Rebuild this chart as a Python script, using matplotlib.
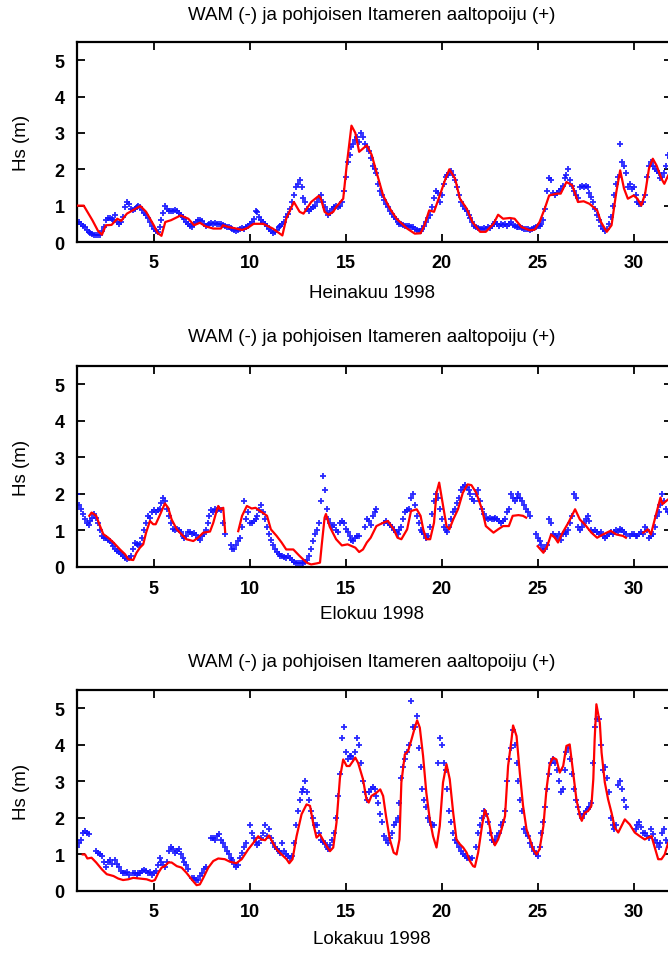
import numpy as np
import matplotlib
matplotlib.use("Agg")
import matplotlib.pyplot as plt

nan = np.nan

# ---------------- data ----------------
title_text = "WAM (-) ja pohjoisen Itameren aaltopoiju (+)"
month_labels = ["Heinakuu 1998", "Elokuu 1998", "Lokakuu 1998"]
ylabel_text = "Hs (m)"
x_ticks = [5, 10, 15, 20, 25, 30]
y_ticks = [0, 1, 2, 3, 4, 5]

# WAM model (red line), (day, Hs)
jul_wam = [(1.0, 1.0), (1.35, 1.0), (1.8, 0.6), (2.1, 0.3), (2.3, 0.2), (2.5, 0.46), (2.8, 0.47),
           (3.1, 0.64), (3.3, 0.58), (3.6, 0.78), (4.3, 0.99), (4.6, 0.83), (5.0, 0.46), (5.2, 0.25),
           (5.4, 0.17), (5.6, 0.55), (5.9, 0.6), (6.4, 0.73), (6.8, 0.64), (7.1, 0.46), (7.4, 0.53),
           (7.7, 0.43), (8.1, 0.37), (8.5, 0.37), (8.6, 0.46), (8.9, 0.41), (9.3, 0.37), (9.6, 0.33),
           (9.9, 0.39), (10.2, 0.5), (10.7, 0.5), (11.2, 0.37), (11.7, 0.18), (11.9, 0.64), (12.3, 1.1),
           (12.6, 0.83), (12.8, 0.78), (13.2, 1.1), (13.6, 1.27), (13.7, 1.2), (13.9, 0.83), (14.1, 0.75),
           (14.35, 0.83), (14.5, 0.96), (14.87, 1.19), (15.05, 2.1), (15.3, 3.2), (15.5, 3.0), (15.7, 2.48),
           (15.9, 2.57), (16.1, 2.66), (16.35, 2.4), (16.6, 1.93), (16.95, 1.28), (17.3, 0.92), (17.65, 0.64),
           (18.2, 0.37), (18.6, 0.23), (18.9, 0.24), (19.1, 0.46), (19.35, 0.87), (19.6, 0.83), (19.9, 1.28),
           (20.2, 1.74), (20.4, 2.0), (20.7, 1.74), (20.95, 1.19), (21.3, 0.92), (21.6, 0.55), (22.0, 0.28),
           (22.3, 0.28), (22.7, 0.5), (22.94, 0.75), (23.2, 0.64), (23.55, 0.66), (23.8, 0.64), (24.16, 0.41),
           (24.6, 0.32), (24.85, 0.34), (25.1, 0.55), (25.37, 0.92), (25.6, 1.28), (26.0, 1.33), (26.2, 1.33),
           (26.5, 1.65), (26.8, 1.56), (27.1, 1.1), (27.4, 1.12), (27.7, 1.05), (28.1, 0.87), (28.3, 0.55),
           (28.6, 0.28), (28.85, 0.46), (29.1, 1.38), (29.3, 1.97), (29.5, 1.47), (29.7, 1.19), (30.0, 1.28),
           (30.2, 1.19), (30.4, 1.0), (30.6, 1.33), (30.8, 2.02), (31.0, 2.29), (31.2, 2.1), (31.45, 1.74),
           (31.6, 1.6), (31.8, 1.83), (32.0, 2.0)]

aug_wam = [(1.64, 1.4), (1.76, 1.49), (2.0, 1.4), (2.2, 1.12), (2.37, 0.9), (2.63, 0.8), (2.9, 0.67),
           (3.24, 0.48), (3.5, 0.35), (3.67, 0.21), (3.93, 0.19), (4.1, 0.39), (4.28, 0.53), (4.45, 0.62),
           (4.6, 0.94), (4.8, 1.26), (4.97, 1.17), (5.1, 1.17), (5.3, 1.4), (5.58, 1.74), (5.75, 1.62),
           (5.93, 1.3), (6.2, 1.03), (6.45, 0.89), (6.7, 0.76), (7.06, 0.71), (7.3, 0.8), (7.58, 0.94),
           (7.93, 0.97), (8.1, 1.21), (8.27, 1.53), (8.36, 1.67), (8.45, 1.58), (8.62, 1.62), (8.72, 0.96),
           (9.0, nan),
           (9.4, 0.98), (9.6, 1.4), (9.85, 1.67), (10.1, 1.6), (10.3, 1.62), (10.5, 1.55), (10.9, 1.4),
           (11.1, 1.03), (11.4, 0.85), (11.66, 0.67), (11.9, 0.48), (12.27, 0.48), (12.6, 0.3), (12.96, 0.12),
           (13.2, 0.07), (13.5, 0.1), (13.66, 0.12), (13.75, 0.6), (13.9, 1.35), (13.97, 1.45), (14.17, 1.1),
           (14.5, 0.76), (14.8, 0.59), (15.1, 0.62), (15.5, 0.53), (15.7, 0.41), (15.9, 0.48), (16.1, 0.67),
           (16.3, 0.8), (16.6, 1.12), (16.95, 1.21), (17.2, 1.26), (17.5, 1.03), (17.7, 0.8), (17.9, 0.76),
           (18.2, 1.03), (18.4, 1.53), (18.7, 1.58), (18.9, 1.4), (19.04, 1.03), (19.2, 0.76), (19.4, 0.76),
           (19.6, 1.21), (19.73, 2.03), (19.87, 2.31), (20.1, 1.58), (20.25, 1.12), (20.4, 1.03), (20.6, 1.3),
           (20.85, 1.58), (21.1, 2.03), (21.35, 2.26), (21.55, 2.24), (21.8, 2.03), (22.1, 1.58), (22.3, 1.12),
           (22.7, 0.94), (22.94, 1.03), (23.2, 1.12), (23.5, 1.12), (23.7, 1.4), (24.0, 1.42), (24.24, 1.4),
           (24.4, 1.35), (24.7, nan),
           (25.0, 0.57), (25.3, 0.39), (25.5, 0.57), (25.7, 0.89), (25.9, 0.8), (26.06, 0.67), (26.3, 0.94),
           (26.6, 1.21), (26.95, 1.58), (27.2, 1.3), (27.45, 1.17), (27.8, 0.94), (28.1, 0.8), (28.4, 0.89),
           (28.8, 0.99), (29.1, 0.89), (29.45, 0.85), (29.6, 0.8), (30.0, nan),
           (30.5, 0.94), (30.75, 1.03), (30.9, 0.89), (31.1, 1.3), (31.4, 1.9), (31.5, 1.72), (31.8, 1.85),
           (32.0, 1.9)]

oct_wam = [(1.3, 1.0), (1.42, 1.0), (1.54, 0.89), (1.76, 0.91), (2.0, 0.78), (2.3, 0.59), (2.55, 0.46),
           (2.9, 0.41), (3.15, 0.34), (3.4, 0.3), (3.67, 0.32), (3.93, 0.36), (4.28, 0.34), (4.63, 0.32),
           (4.9, 0.27), (5.06, 0.3), (5.24, 0.5), (5.41, 0.64), (5.58, 0.68), (5.76, 0.78), (5.93, 0.78),
           (6.2, 0.68), (6.45, 0.64), (6.7, 0.5), (6.97, 0.32), (7.23, 0.16), (7.4, 0.18), (7.58, 0.36),
           (7.84, 0.64), (8.1, 0.82), (8.36, 0.89), (8.7, 0.87), (8.97, 0.8), (9.3, 0.76), (9.58, 0.87),
           (9.92, 1.14), (10.27, 1.37), (10.44, 1.5), (10.6, 1.41), (10.8, 1.39), (11.0, 1.52), (11.2, 1.32),
           (11.4, 1.14), (11.66, 1.0), (11.92, 0.87), (12.06, 0.76), (12.23, 0.87), (12.44, 1.5), (12.7, 2.1),
           (12.96, 2.37), (13.14, 2.33), (13.3, 1.87), (13.48, 1.46), (13.66, 1.55), (13.9, 1.32), (14.18, 1.09),
           (14.35, 1.19), (14.52, 1.87), (14.7, 3.1), (14.87, 3.6), (15.05, 3.42), (15.2, 3.42), (15.5, 3.65),
           (15.65, 3.5), (15.9, 3.06), (16.08, 2.51), (16.2, 2.42), (16.34, 2.6), (16.6, 2.69), (16.8, 2.78),
           (16.95, 2.6), (17.1, 2.05), (17.3, 1.41), (17.5, 1.05), (17.65, 1.0), (17.8, 1.41), (17.9, 2.97),
           (18.08, 3.74), (18.25, 3.83), (18.43, 4.15), (18.6, 4.47), (18.72, 4.67), (18.86, 4.47), (19.03, 3.7),
           (19.2, 2.69), (19.38, 1.96), (19.55, 1.5), (19.73, 1.19), (19.9, 1.78), (20.07, 2.97), (20.25, 3.47),
           (20.42, 3.06), (20.6, 2.14), (20.77, 1.41), (20.95, 1.28), (21.12, 1.19), (21.3, 1.05), (21.47, 0.82),
           (21.64, 0.68), (21.73, 0.66), (21.9, 1.05), (22.1, 1.78), (22.25, 2.22), (22.43, 1.96), (22.6, 1.5),
           (22.77, 1.25), (22.94, 1.41), (23.12, 1.69), (23.3, 2.05), (23.46, 3.42), (23.64, 4.15), (23.72, 4.53),
           (23.9, 4.24), (24.07, 3.24), (24.24, 2.33), (24.42, 1.69), (24.6, 1.41), (24.76, 1.14), (24.94, 1.0),
           (25.1, 1.14), (25.3, 1.78), (25.46, 2.78), (25.63, 3.47), (25.8, 3.65), (25.98, 3.6), (26.15, 3.24),
           (26.33, 3.42), (26.5, 3.97), (26.67, 4.01), (26.85, 3.24), (27.02, 2.51), (27.2, 2.05), (27.3, 1.92),
           (27.45, 2.14), (27.63, 2.19), (27.8, 2.33), (27.9, 3.06), (27.97, 4.15), (28.06, 5.11), (28.24, 4.6),
           (28.33, 3.79), (28.5, 2.97), (28.67, 2.51), (28.85, 2.14), (29.02, 1.73), (29.2, 1.6), (29.37, 1.78),
           (29.54, 1.96), (29.8, 1.82), (30.06, 1.6), (30.32, 1.5), (30.58, 1.41), (30.75, 1.46), (30.93, 1.5),
           (31.1, 1.19), (31.28, 0.87), (31.45, 0.87), (31.62, 1.0), (31.8, 1.32), (32.0, 1.4)]

# Buoy observations (blue +), sampled every 0.1 day starting at day 1.0; one row per day
buoy_start = 1.0
buoy_step = 0.1
jul_buoy = [
    0.55, 0.55, 0.5, 0.45, 0.4, 0.33, 0.28, 0.25, 0.22, 0.2,
    0.18, 0.18, 0.2, 0.3, 0.4, 0.6, 0.65, 0.65, 0.62, 0.6,
    0.75, 0.55, 0.5, 0.55, 0.7, 0.95, 1.1, 1.05, 0.9, 0.88,
    0.9, 0.95, 1.0, 0.95, 0.88, 0.8, 0.75, 0.65, 0.55, 0.45,
    0.35, 0.3, 0.28, 0.4, 0.6, 0.8, 0.98, 0.9, 0.85, 0.85,
    0.85, 0.88, 0.85, 0.8, 0.75, 0.68, 0.62, 0.55, 0.5, 0.45,
    0.42, 0.5, 0.55, 0.6, 0.6, 0.58, 0.5, 0.45, 0.48, 0.5,
    0.52, 0.5, 0.52, 0.5, 0.5, 0.5, 0.48, 0.45, 0.42, 0.4,
    0.38, 0.35, 0.32, 0.3, 0.32, 0.35, 0.38, 0.35, 0.4, 0.45,
    0.5, 0.55, 0.62, 0.85, 0.82, 0.7, 0.6, 0.55, 0.5, 0.45,
    0.35, 0.3, 0.25, 0.28, 0.32, 0.4, 0.45, 0.5, 0.55, 0.7,
    0.78, 0.9, 1.1, 1.3, 1.5, 1.6, 1.7, 1.5, 1.2, 1.1,
    0.9, 0.85, 0.9, 0.95, 1.0, 1.1, 1.2, 1.3, 1.1, 0.95,
    0.85, 0.75, 0.8, 0.9, 0.95, 1.0, 0.95, 1.0, 1.1, 1.4,
    1.8, 2.2, 2.4, 2.6, 2.7, 2.8, 2.9, 2.75, 3.0, 2.9,
    2.7, 2.6, 2.5, 2.3, 2.1, 2.0, 1.9, 1.6, 1.4, 1.3,
    1.15, 1.05, 0.95, 0.85, 0.78, 0.7, 0.62, 0.55, 0.5, 0.5,
    0.48, 0.45, 0.45, 0.43, 0.42, 0.4, 0.35, 0.32, 0.3, 0.3,
    0.35, 0.45, 0.55, 0.65, 0.75, 0.95, 1.2, 1.4, 1.35, 1.1,
    1.3, 1.6, 1.8, 1.85, 1.9, 1.95, 1.85, 1.7, 1.5, 1.3,
    1.1, 1.0, 0.9, 0.85, 0.75, 0.65, 0.55, 0.45, 0.4, 0.38,
    0.35, 0.35, 0.38, 0.35, 0.4, 0.38, 0.45, 0.5, 0.55, 0.5,
    0.45, 0.5, 0.48, 0.5, 0.45, 0.5, 0.55, 0.48, 0.45, 0.42,
    0.4, 0.4, 0.38, 0.35, 0.35, 0.35, 0.33, 0.35, 0.38, 0.42,
    0.45, 0.45, 0.5, 0.6, 0.9, 1.4, 1.75, 1.7, 1.35, 1.3,
    1.35, 1.4, 1.45, 1.55, 1.75, 1.85, 2.0, 1.7, 1.55, 1.4,
    1.3, 1.2, 1.5, 1.55, 1.5, 1.55, 1.5, 1.35, 1.25, 1.1,
    0.9, 0.75, 0.6, 0.45, 0.35, 0.3, 0.35, 0.5, 0.7, 1.0,
    1.3, 1.6, 1.8, 2.7, 2.2, 2.1, 1.9, 1.5, 1.6, 1.45,
    1.5, 1.3, 1.1, 1.05, 1.05, 1.1, 1.3, 1.8, 2.1, 2.2,
    2.1, 2.0, 1.95, 1.9, 1.75, 1.8, 1.9, 2.1, 2.4, 2.3,
]
aug_buoy = [
    2.0, 1.7, 1.6, 1.45, 1.3, 1.2, 1.15, 1.25, 1.35, 1.45,
    1.35, 1.2, 1.0, 0.85, 0.8, 0.78, 0.75, 0.7, 0.65, 0.58,
    0.5, 0.45, 0.4, 0.35, 0.3, 0.25, 0.22, 0.25, 0.3, 0.5,
    0.65, 0.62, 0.6, 0.62, 0.8, 1.0, 1.2, 1.4, 1.35, 1.5,
    1.55, 1.5, 1.55, 1.6, 1.75, 1.9, 1.8, 1.6, 1.4, 1.2,
    1.05, 1.0, 1.05, 1.0, 0.95, 0.85, 0.8, 0.85, 0.95, 0.95,
    0.9, 0.92, 0.88, 0.8, 0.75, 0.85, 0.9, 1.0, 1.2, 1.4,
    1.55, 1.5, 1.6, 1.55, 1.6, 1.55, 1.2, 0.9, nan, nan,
    0.6, 0.5, 0.5, 0.6, 0.7, 0.8, 1.1, 1.8, 1.3, 1.5,
    1.2, 1.2, 1.25, 1.3, 1.4, 1.55, 1.7, 1.5, 1.3, 1.1,
    0.9, 0.75, 0.6, 0.5, 0.4, 0.35, 0.3, 0.3, 0.28, 0.25,
    0.3, 0.25, 0.2, 0.15, 0.12, 0.1, 0.1, 0.1, 0.12, 0.15,
    0.2, 0.3, 0.5, 0.7, 0.9, 1.0, 1.2, 1.8, 2.5, 2.1,
    1.6, 1.3, 1.2, 1.1, 1.15, 1.0, 0.95, 1.2, 1.25, 1.2,
    1.05, 0.95, 0.85, 0.75, 0.7, 0.8, 0.85, 0.85, nan, nan,
    1.1, 1.3, 1.25, 1.15, 1.4, 1.5, 1.6, nan, nan, nan,
    1.2, 1.25, 1.2, 1.15, 1.1, 1.0, 0.95, 0.9, 1.0, 1.1,
    1.3, 1.5, 1.55, 1.6, 1.9, 2.0, 1.7, 1.4, 1.2, 1.0,
    0.95, 0.9, 0.8, 0.85, 1.1, 1.45, 1.8, 2.0, 1.9, 1.6,
    1.3, 1.1, 1.0, 0.95, 1.1, 1.3, 1.5, 1.6, 1.75, 1.9,
    2.1, 2.2, 2.25, 2.2, 2.1, 2.0, 1.85, 1.8, 2.0, 2.1,
    1.8, 1.6, 1.45, 1.35, 1.3, 1.35, 1.3, 1.3, 1.35, 1.3,
    1.25, 1.2, 1.25, 1.3, 1.5, 1.6, 2.0, 1.9, 1.8, 1.9,
    2.0, 1.9, 1.8, 1.7, 1.6, 1.5, 1.4, nan, nan, 0.9,
    0.8, 0.7, 0.6, 0.5, 0.5, 0.6, 1.3, 1.2, 0.9, 0.85,
    0.8, 0.9, 0.75, 0.9, 0.95, 0.9, 1.0, 1.2, 1.4, 2.0,
    1.9, 1.1, 1.0, 1.1, 1.2, 1.3, 1.4, 1.25, 1.0, 0.95,
    1.0, 0.95, 0.9, 0.95, 0.85, 0.8, 0.85, 0.9, 0.95, 0.9,
    0.95, 1.0, 0.95, 1.05, 1.0, 0.95, 0.9, nan, 0.85, 0.9,
    0.9, 0.85, 0.85, 0.9, 0.95, 0.9, 1.1, 1.0, 0.8, 0.85,
    0.9, 1.1, 1.4, 1.5, 1.7, 2.0, 1.8, 1.6, 1.5, 1.5,
]
oct_buoy = [
    1.2, 1.3, 1.4, 1.6, 1.65, 1.6, 1.55, nan, nan, nan,
    1.1, 1.05, 1.0, 0.95, 0.8, 0.65, 0.8, 0.85, 0.75, nan,
    0.85, 0.75, 0.65, 0.55, 0.5, 0.5, 0.52, 0.45, nan, 0.5,
    0.48, 0.45, 0.5, 0.48, 0.55, 0.58, 0.55, 0.5, 0.52, 0.45,
    0.5, 0.55, 0.7, 0.9, 0.8, 0.7, 0.65, 0.8, 1.1, 1.2,
    1.15, 1.05, 1.1, 1.15, 1.0, 0.9, 0.8, 0.7, 0.6, nan,
    0.35, 0.35, 0.3, 0.3, 0.4, 0.5, 0.6, 0.65, nan, nan,
    1.45, 1.45, 1.4, 1.5, 1.55, 1.4, 1.3, 1.2, 1.1, 1.0,
    0.9, 0.85, 0.75, 0.65, 0.7, 0.9, 1.05, 1.2, 1.3, nan,
    1.8, 1.6, 1.45, 1.35, 1.25, 1.3, 1.45, 1.6, 1.8, 1.5,
    1.7, 1.45, 1.3, 1.2, 1.15, 1.1, 1.05, 1.3, 1.1, 1.0,
    0.95, 0.9, 0.95, 1.3, 1.8, 2.2, 2.5, 2.7, 2.8, 3.0,
    2.7, 2.5, 2.2, 2.0, 1.8, 1.8, 1.6, 1.4, 1.35, 1.3,
    1.2, 1.15, 1.25, 1.4, 1.6, 2.0, 2.6, 3.2, 4.2, 4.5,
    3.8, 3.6, 3.7, 3.7, 3.6, 3.8, 4.2, 4.0, 3.5, 3.0,
    2.7, 2.5, 2.7, 2.8, 2.85, 2.8, 2.6, 2.4, 2.1, 1.9,
    1.5, 1.4, 1.3, 1.45, 1.6, 1.8, 1.9, 2.0, 2.4, 3.1,
    3.4, 3.6, 3.8, 4.0, 5.2, 4.5, 4.5, 4.8, 3.9, 3.4,
    2.8, 2.5, 2.3, 2.0, 1.9, 1.8, 1.8, nan, 3.5, 4.2,
    4.0, 3.5, 3.3, 2.8, 2.2, 1.9, 1.6, 1.4, 1.3, 1.2,
    1.1, 1.0, 0.95, 0.9, 0.9, 0.88, 0.9, nan, 1.2, 1.6,
    1.8, 2.0, 2.2, 2.1, 1.9, 1.6, 1.4, 1.35, 1.4, 1.5,
    1.6, 1.8, 1.9, 2.2, 3.0, 3.6, 3.9, 4.4, 4.0, 3.5,
    3.0, 2.5, 2.2, 1.7, 1.6, 1.5, 1.3, 1.2, 1.1, 1.0,
    0.95, 1.2, 1.6, 1.9, 2.3, 2.8, 3.2, 3.5, 3.6, 3.5,
    3.3, 3.0, 2.7, 2.8, 3.3, 3.8, 3.9, 3.6, 3.2, 2.8,
    2.5, 2.3, 2.1, 2.0, 2.1, 2.2, 2.25, 2.3, 2.4, 3.5,
    4.5, 4.7, 4.7, 4.0, 3.3, 3.4, 3.1, 2.7, 2.0, 1.8,
    1.7, 1.8, 2.9, 3.0, 2.8, 2.5, 2.3, nan, nan, nan,
    nan, 1.7, 1.8, 1.9, 1.75, 1.6, 1.6, 1.5, 1.45, 1.7,
    1.55, 1.4, 1.3, 1.2, 1.3, 1.6, 1.7, 1.4, 1.3, 1.2,
]

wam_series = [jul_wam, aug_wam, oct_wam]
buoy_series = [jul_buoy, aug_buoy, oct_buoy]

# ---------------- figure ----------------
plt.rcParams['font.family'] = ['Liberation Sans', 'DejaVu Sans']

W, H = 668, 954
fig = plt.figure(figsize=(W / 100, H / 100), dpi=100)

# axes boxes in pixels: (left, top, right, bottom)
boxes = [(77, 43, 672, 243), (77, 367, 672, 568), (77, 691, 672, 892)]
title_y = [15, 338, 663]
xlabel_y = [294, 615, 940]

for i in range(3):
    l, t, r, b = boxes[i]
    ax = fig.add_axes([l / W, 1 - b / H, (r - l) / W, (b - t) / H])
    wd, wv = zip(*wam_series[i])
    ax.plot(wd, wv, color='#ff0000', lw=1.6, zorder=3)
    bv = np.array(buoy_series[i], dtype=float)
    bd = buoy_start + buoy_step * np.arange(len(bv))
    ax.plot(bd, bv, linestyle='none', marker='+', color='#1010ff', ms=5.0, mew=1.3,
            alpha=0.9, zorder=2)
    ax.set_xlim(1, 32)
    ax.set_ylim(0, 5.5)
    ax.set_xticks(x_ticks)
    ax.set_yticks(y_ticks)
    ax.tick_params(direction='in', length=6, width=1.3, top=True, right=True,
                   labelsize=13, pad=9)
    for lab in ax.get_xticklabels() + ax.get_yticklabels():
        lab.set_fontweight('bold')
    for s in ax.spines.values():
        s.set_linewidth(1.6)
    cx = (l + r) / 2 / W - 0.004
    fig.text(cx, 1 - title_y[i] / H, title_text, ha='center', va='center', fontsize=13.5)
    fig.text(cx, 1 - xlabel_y[i] / H, month_labels[i], ha='center', va='center', fontsize=13.5)
    fig.text(22 / W, 1 - (t + b) / 2 / H, ylabel_text, ha='center', va='center',
             rotation=90, fontsize=13.5)

fig.savefig('out.png', dpi=100)
